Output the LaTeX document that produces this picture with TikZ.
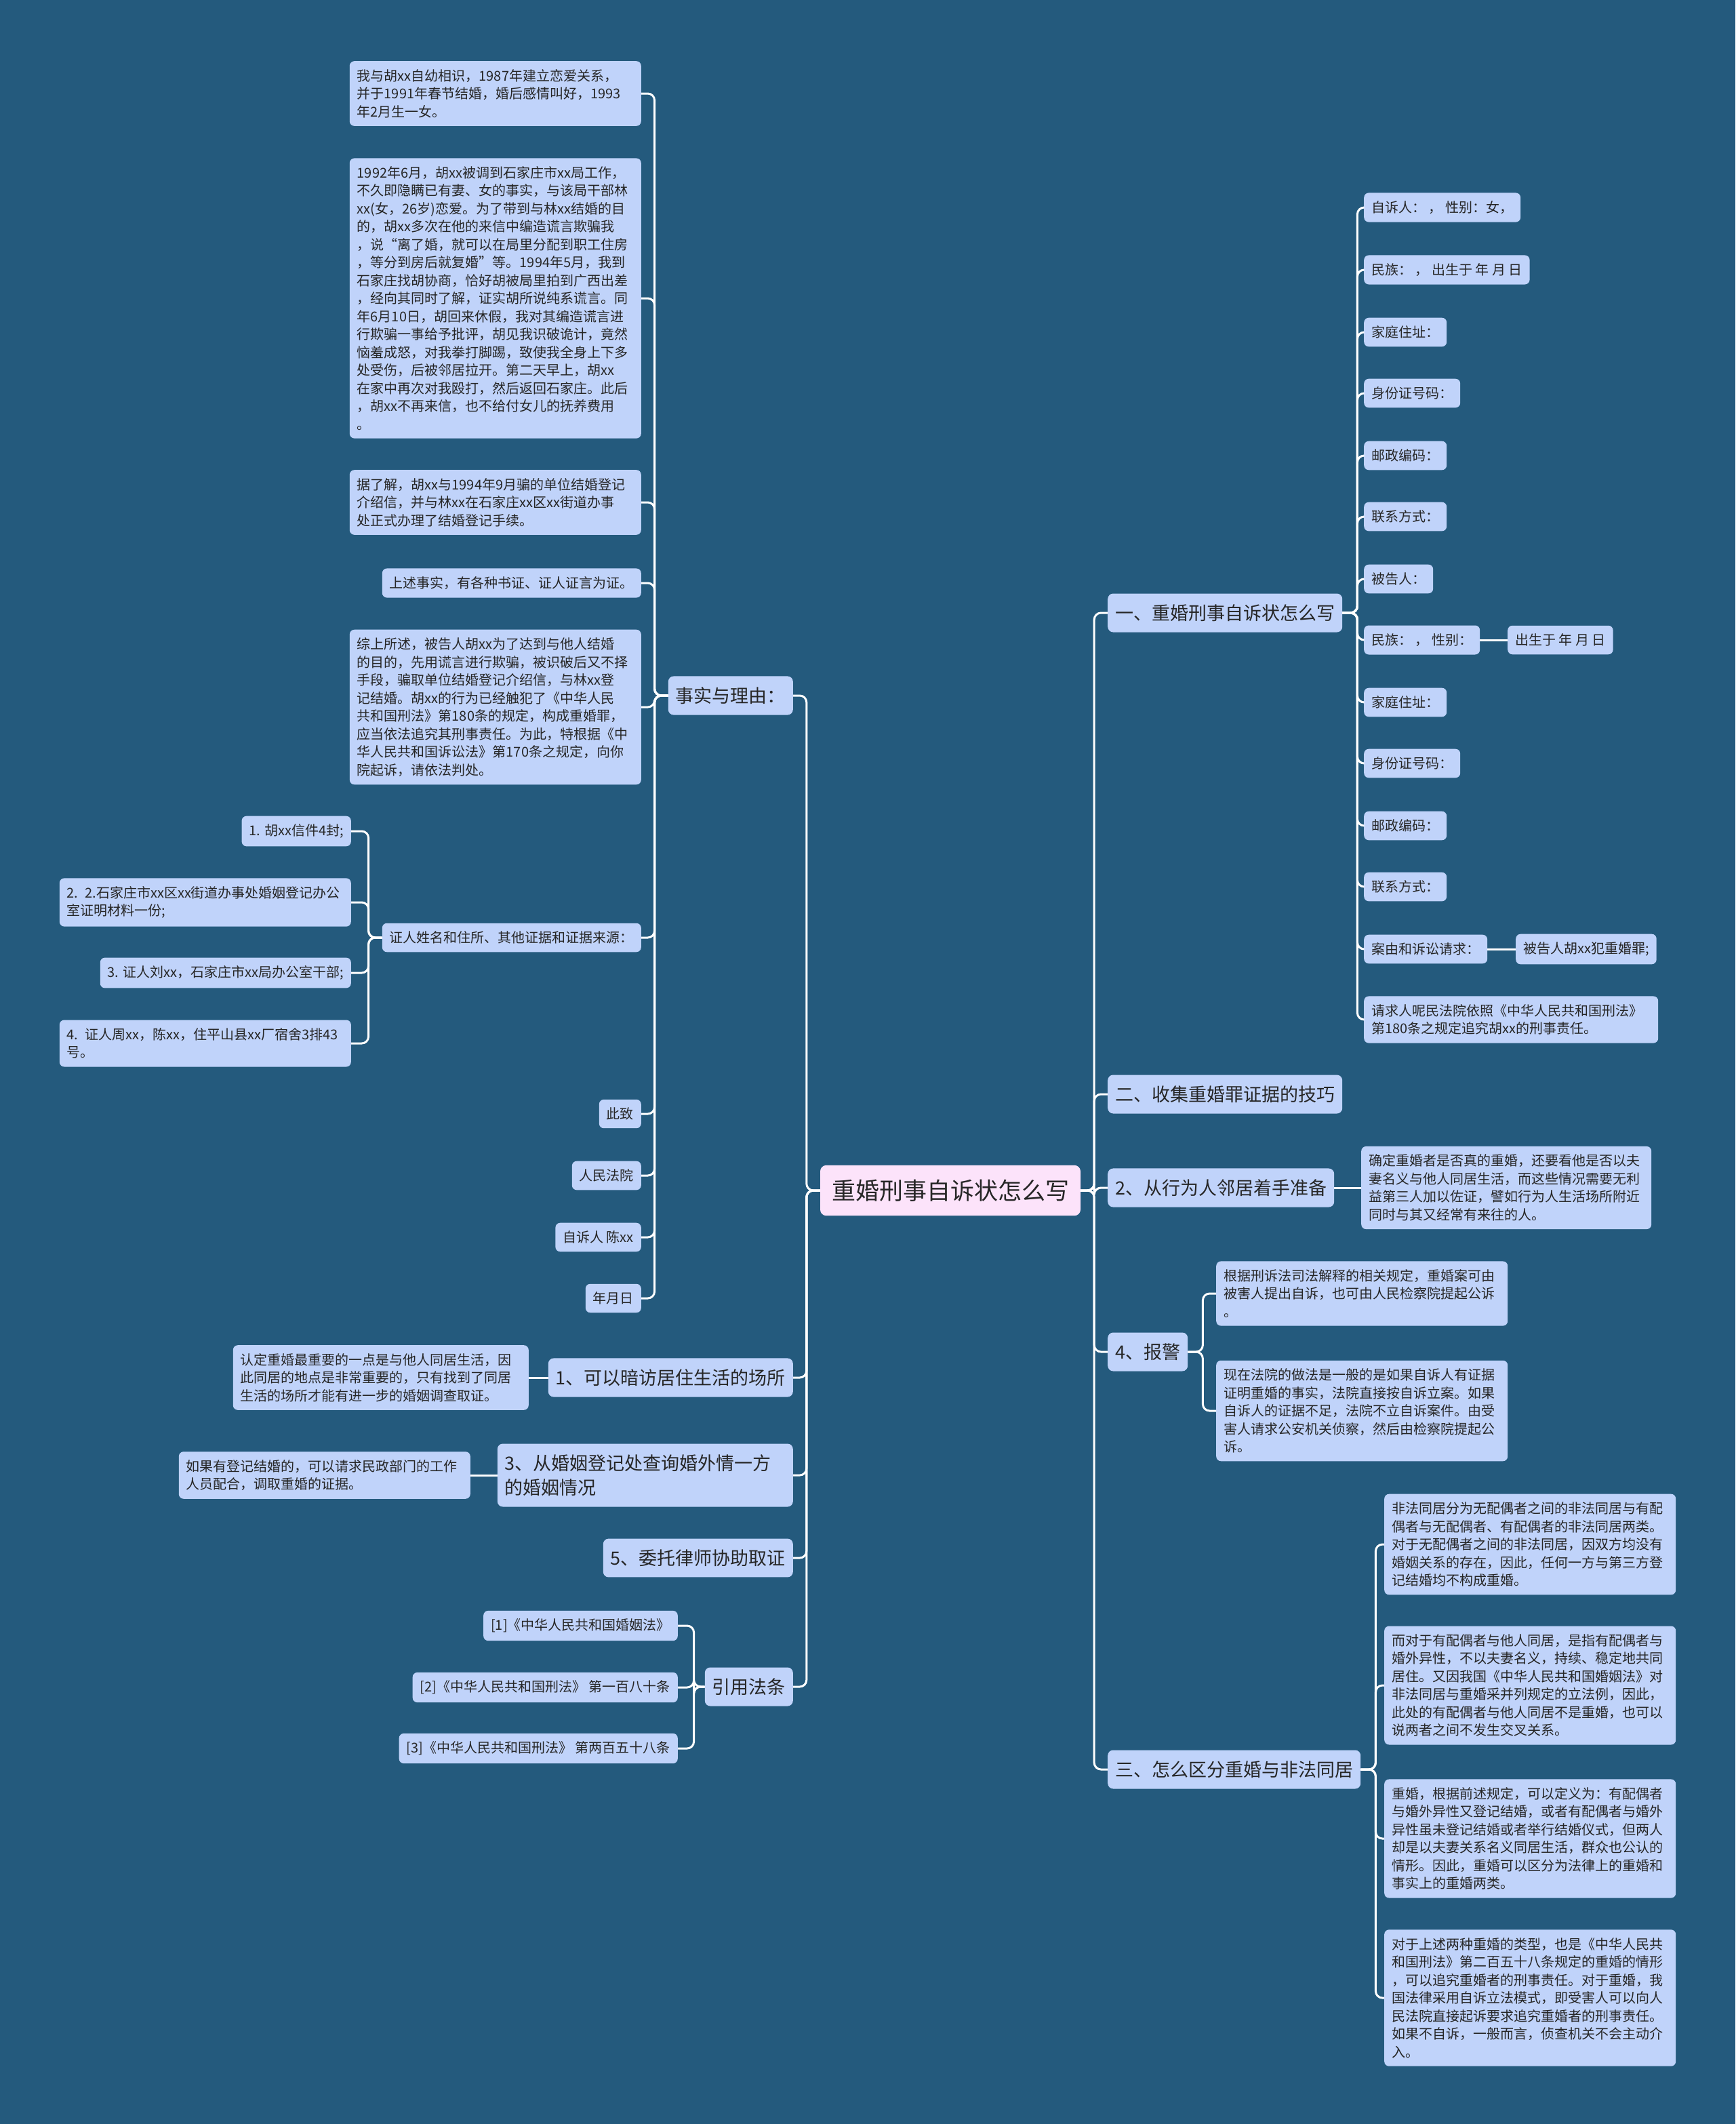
\documentclass[tikz,border=0pt]{standalone}
\usepackage{fontspec}
\setmainfont{Noto Sans CJK SC}
\usepackage{tikz}
\usetikzlibrary{math}
\definecolor{bgblue}{HTML}{245A7D}
\definecolor{boxblue}{HTML}{C0D3FA}
\definecolor{rootpink}{HTML}{FCE3FA}
\definecolor{inkgray}{HTML}{262626}
\tikzstyle{topic} = [fill=rootpink, text=inkgray, rounded corners=9pt, inner xsep=17pt, inner ysep=21pt, font=\fontsize{35}{42}\selectfont]
\tikzstyle{branch} = [fill=boxblue, text=inkgray, rounded corners=8pt, inner xsep=11pt, inner ysep=16pt, align=left, font=\fontsize{27}{36}\selectfont]
\tikzstyle{leaf} = [fill=boxblue, text=inkgray, rounded corners=7pt, inner xsep=11pt, inner ysep=12pt, align=left, font=\fontsize{20}{26.5}\selectfont]
\tikzstyle{link} = [draw=white, line width=3pt, rounded corners=10pt]

\begin{document}
\begin{tikzpicture}[x=1pt, y=-1pt]

  \tikzmath{\picw = 2560; \pich = 3133; \lgap = 20;}
  \fill[bgblue] (0,0) rectangle (\picw,\pich);
  \useasboundingbox (0,0) rectangle (\picw,\pich);

  % centre
  \node[topic] (root) at (1402,1756) {重婚刑事自诉状怎么写};

  % left side
  \node[branch, anchor=east] (facts) at (1170,1026) {事实与理由：};
  \node[branch, anchor=east] (visit) at (1170,2032) {1、可以暗访居住生活的场所};
  \node[branch, anchor=east, text width=414pt] (registry) at (1170,2176) {3、从婚姻登记处查询婚外情一方\\的婚姻情况};
  \node[branch, anchor=east] (lawyer) at (1170,2298) {5、委托律师协助取证};
  \node[branch, anchor=east] (laws) at (1170,2488) {引用法条};

  \node[leaf, anchor=east, text width=408pt] (f1) at (946,138) {我与胡xx自幼相识，1987年建立恋爱关系，\\并于1991年春节结婚，婚后感情叫好，1993\\年2月生一女。};
  \node[leaf, anchor=east, text width=408pt] (f2) at (946,440) {1992年6月，胡xx被调到石家庄市xx局工作，\\不久即隐瞒已有妻、女的事实，与该局干部林\\xx(女，26岁)恋爱。为了带到与林xx结婚的目\\的，胡xx多次在他的来信中编造谎言欺骗我\\，说“离了婚，就可以在局里分配到职工住房\\，等分到房后就复婚”等。1994年5月，我到\\石家庄找胡协商，恰好胡被局里拍到广西出差\\，经向其同时了解，证实胡所说纯系谎言。同\\年6月10日，胡回来休假，我对其编造谎言进\\行欺骗一事给予批评，胡见我识破诡计，竟然\\恼羞成怒，对我拳打脚踢，致使我全身上下多\\处受伤，后被邻居拉开。第二天早上，胡xx\\在家中再次对我殴打，然后返回石家庄。此后\\，胡xx不再来信，也不给付女儿的抚养费用\\。};
  \node[leaf, anchor=east, text width=408pt] (f3) at (946,741) {据了解，胡xx与1994年9月骗的单位结婚登记\\介绍信，并与林xx在石家庄xx区xx街道办事\\处正式办理了结婚登记手续。};
  \node[leaf, anchor=east] (f4) at (946,860) {上述事实，有各种书证、证人证言为证。};
  \node[leaf, anchor=east, text width=408pt] (f5) at (946,1043) {综上所述，被告人胡xx为了达到与他人结婚\\的目的，先用谎言进行欺骗，被识破后又不择\\手段，骗取单位结婚登记介绍信，与林xx登\\记结婚。胡xx的行为已经触犯了《中华人民\\共和国刑法》第180条的规定，构成重婚罪，\\应当依法追究其刑事责任。为此，特根据《中\\华人民共和国诉讼法》第170条之规定，向你\\院起诉，请依法判处。};
  \node[leaf, anchor=east] (f6) at (946,1383) {证人姓名和住所、其他证据和证据来源：};
  \node[leaf, anchor=east] (zhici) at (946,1643) {此致};
  \node[leaf, anchor=east] (court) at (946,1734) {人民法院};
  \node[leaf, anchor=east] (signer) at (946,1825) {自诉人 陈xx};
  \node[leaf, anchor=east] (datef) at (946,1915) {年月日};

  \node[leaf, anchor=east] (ev1) at (518,1226) {1. 胡xx信件4封;};
  \node[leaf, anchor=east, text width=408pt] (ev2) at (518,1331) {2. 2.石家庄市xx区xx街道办事处婚姻登记办公\\室证明材料一份;};
  \node[leaf, anchor=east] (ev3) at (518,1435) {3. 证人刘xx，石家庄市xx局办公室干部;};
  \node[leaf, anchor=east, text width=408pt] (ev4) at (518,1539) {4. 证人周xx，陈xx，住平山县xx厂宿舍3排43\\号。};

  \node[leaf, anchor=east, text width=414pt] (visitnote) at (780,2032) {认定重婚最重要的一点是与他人同居生活，因\\此同居的地点是非常重要的，只有找到了同居\\生活的场所才能有进一步的婚姻调查取证。};
  \node[leaf, anchor=east, text width=408pt] (registrynote) at (694,2176) {如果有登记结婚的，可以请求民政部门的工作\\人员配合，调取重婚的证据。};

  \node[leaf, anchor=east] (law1) at (1000,2398) {[1]《中华人民共和国婚姻法》};
  \node[leaf, anchor=east] (law2) at (1000,2489) {[2]《中华人民共和国刑法》 第一百八十条};
  \node[leaf, anchor=east] (law3) at (1000,2579) {[3]《中华人民共和国刑法》 第两百五十八条};

  % right side
  \node[branch, anchor=west] (howto) at (1634,904) {一、重婚刑事自诉状怎么写};
  \node[branch, anchor=west] (skills) at (1634,1614) {二、收集重婚罪证据的技巧};
  \node[branch, anchor=west] (neighbor) at (1634,1752) {2、从行为人邻居着手准备};
  \node[branch, anchor=west] (police) at (1634,1994) {4、报警};
  \node[branch, anchor=west] (differ) at (1634,2610) {三、怎么区分重婚与非法同居};

  \node[leaf, anchor=west] (plaintiff) at (2012,306) {自诉人： ， 性别：女，};
  \node[leaf, anchor=west] (pnation) at (2012,398) {民族： ， 出生于 年 月 日};
  \node[leaf, anchor=west] (paddr) at (2012,490) {家庭住址：};
  \node[leaf, anchor=west] (pid) at (2012,580) {身份证号码：};
  \node[leaf, anchor=west] (ppost) at (2012,672) {邮政编码：};
  \node[leaf, anchor=west] (pphone) at (2012,762) {联系方式：};
  \node[leaf, anchor=west] (defendant) at (2012,854) {被告人：};
  \node[leaf, anchor=west] (dnation) at (2012,944) {民族： ， 性别：};
  \node[leaf, anchor=west] (dbirth) at (2224,944) {出生于 年 月 日};
  \node[leaf, anchor=west] (daddr) at (2012,1036) {家庭住址：};
  \node[leaf, anchor=west] (did) at (2012,1126) {身份证号码：};
  \node[leaf, anchor=west] (dpost) at (2012,1218) {邮政编码：};
  \node[leaf, anchor=west] (dphone) at (2012,1308) {联系方式：};
  \node[leaf, anchor=west] (cause) at (2012,1400) {案由和诉讼请求：};
  \node[leaf, anchor=west] (causeb) at (2236,1400) {被告人胡xx犯重婚罪;};
  \node[leaf, anchor=west, text width=412pt] (request) at (2012,1504) {请求人呢民法院依照《中华人民共和国刑法》\\第180条之规定追究胡xx的刑事责任。};

  \node[leaf, anchor=west, text width=406pt] (neighbornote) at (2008,1752) {确定重婚者是否真的重婚，还要看他是否以夫\\妻名义与他人同居生活，而这些情况需要无利\\益第三人加以佐证，譬如行为人生活场所附近\\同时与其又经常有来往的人。};

  \node[leaf, anchor=west, text width=408pt] (policeA) at (1794,1908) {根据刑诉法司法解释的相关规定，重婚案可由\\被害人提出自诉，也可由人民检察院提起公诉\\。};
  \node[leaf, anchor=west, text width=408pt] (policeB) at (1794,2081) {现在法院的做法是一般的是如果自诉人有证据\\证明重婚的事实，法院直接按自诉立案。如果\\自诉人的证据不足，法院不立自诉案件。由受\\害人请求公安机关侦察，然后由检察院提起公\\诉。};

  \node[leaf, anchor=west, text width=408pt] (differA) at (2042,2278) {非法同居分为无配偶者之间的非法同居与有配\\偶者与无配偶者、有配偶者的非法同居两类。\\对于无配偶者之间的非法同居，因双方均没有\\婚姻关系的存在，因此，任何一方与第三方登\\记结婚均不构成重婚。};
  \node[leaf, anchor=west, text width=408pt] (differB) at (2042,2486) {而对于有配偶者与他人同居，是指有配偶者与\\婚外异性，不以夫妻名义，持续、稳定地共同\\居住。又因我国《中华人民共和国婚姻法》对\\非法同居与重婚采并列规定的立法例，因此，\\此处的有配偶者与他人同居不是重婚，也可以\\说两者之间不发生交叉关系。};
  \node[leaf, anchor=west, text width=408pt] (differC) at (2042,2712) {重婚，根据前述规定，可以定义为：有配偶者\\与婚外异性又登记结婚，或者有配偶者与婚外\\异性虽未登记结婚或者举行结婚仪式，但两人\\却是以夫妻关系名义同居生活，群众也公认的\\情形。因此，重婚可以区分为法律上的重婚和\\事实上的重婚两类。};
  \node[leaf, anchor=west, text width=408pt] (differD) at (2042,2947) {对于上述两种重婚的类型，也是《中华人民共\\和国刑法》第二百五十八条规定的重婚的情形\\，可以追究重婚者的刑事责任。对于重婚，我\\国法律采用自诉立法模式，即受害人可以向人\\民法院直接起诉要求追究重婚者的刑事责任。\\如果不自诉，一般而言，侦查机关不会主动介\\入。};

  % connectors
  \foreach \c in {facts,visit,registry,lawyer,laws}
    \draw[link] (root.west) -- ++(-\lgap,0) |- (\c.east);
  \foreach \c in {howto,skills,neighbor,police,differ}
    \draw[link] (root.east) -- ++(\lgap,0) |- (\c.west);

  \foreach \c in {f1,f2,f3,f4,f5,f6,zhici,court,signer,datef}
    \draw[link] (facts.west) -- ++(-\lgap,0) |- (\c.east);
  \foreach \c in {ev1,ev2,ev3,ev4}
    \draw[link] (f6.west) -- ++(-\lgap,0) |- (\c.east);
  \draw[link] (visit.west) -- (visitnote.east);
  \draw[link] (registry.west) -- (registrynote.east);
  \foreach \c in {law1,law2,law3}
    \draw[link] (laws.west) -- ++(-16,0) |- (\c.east);

  \foreach \c in {plaintiff,pnation,paddr,pid,ppost,pphone,defendant,dnation,daddr,did,dpost,dphone,cause,request}
    \draw[link] (howto.east) -- ++(22,0) |- (\c.west);
  \draw[link] (dnation.east) -- (dbirth.west);
  \draw[link] (cause.east) -- (causeb.west);
  \draw[link] (neighbor.east) -- (neighbornote.west);
  \foreach \c in {policeA,policeB}
    \draw[link] (police.east) -- ++(22,0) |- (\c.west);
  \foreach \c in {differA,differB,differC,differD}
    \draw[link] (differ.east) -- ++(22,0) |- (\c.west);

\end{tikzpicture}
\end{document}
